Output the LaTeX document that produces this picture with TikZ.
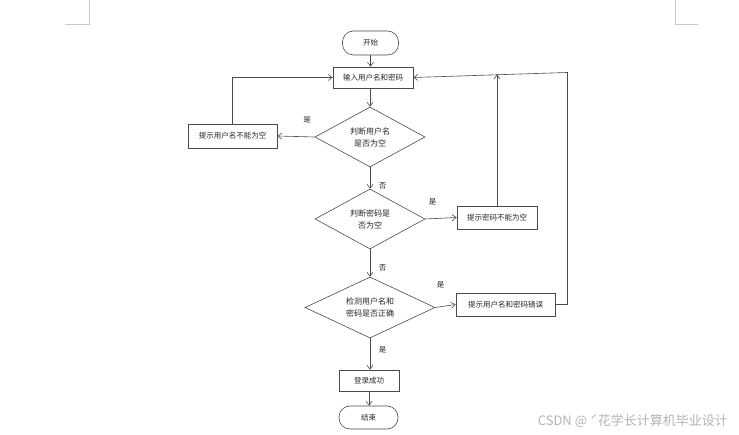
\documentclass[tikz,border=0pt]{standalone}
\usepackage{fontspec}
\setmainfont{Noto Sans CJK SC}
\usetikzlibrary{shapes.geometric,arrows.meta}
\definecolor{ln}{HTML}{4A4A4A}
\definecolor{wm}{HTML}{B4B4B4}
\definecolor{mk}{HTML}{C8C8C8}
\tikzset{
  x=1pt,y=-1pt,
  every node/.style={font=\fontsize{7.5}{10}\selectfont, text=black!85},
  procbox/.style={draw=ln, line width=0.6pt, rectangle, inner sep=0pt, align=center},
  pill/.style={draw=ln, line width=0.6pt, rectangle, rounded corners=11pt, inner sep=0pt, minimum width=56pt, minimum height=24pt},
  decide/.style={draw=ln, line width=0.6pt, diamond, inner sep=0pt, aspect=1.9, align=center, font=\fontsize{8}{12}\selectfont},
  flow/.style={draw=ln, line width=0.6pt, -{Straight Barb[length=4pt,width=6pt]}},
  plain/.style={draw=ln, line width=0.6pt},
  lbl/.style={font=\fontsize{7.5}{8}\selectfont, inner sep=0pt},
}
\begin{document}
\begin{tikzpicture}
\useasboundingbox (0,0) rectangle (739,435);
% page corner marks
\draw[mk, line width=0.6pt] (89,0) -- (89,24) -- (65,24);
\draw[mk, line width=0.6pt] (675,0) -- (675,24) -- (698,24);

\node[pill] (start) at (370.5,43) {开始};
\node[procbox, minimum width=80pt, minimum height=21pt] (input) at (373,77.5) {输入用户名和密码};
\node[decide, minimum width=110pt, minimum height=60pt] (d1) at (370,137) {判断用户名\\是否为空};
\node[procbox, minimum width=89pt, minimum height=24pt] (b1) at (232.5,136) {提示用户名不能为空};
\node[decide, minimum width=110pt, minimum height=60pt] (d2) at (370,219) {判断密码是\\否为空};
\node[procbox, minimum width=80pt, minimum height=23pt] (b2) at (497,217.5) {提示密码不能为空};
\node[decide, minimum width=130pt, minimum height=61pt] (d3) at (370,307.5) {检测用户名和\\密码是否正确};
\node[procbox, minimum width=99pt, minimum height=23pt] (b3) at (505.5,304.5) {提示用户名和密码错误};
\node[procbox, minimum width=60pt, minimum height=21pt] (ok) at (369,380.5) {登录成功};
\node[pill, minimum width=59pt, minimum height=23pt] (stop) at (368.5,417.5) {结束};

\coordinate (tr) at (567,72.5);
\coordinate (j) at (497,74.5);
\coordinate (br) at (567,304.5);

\draw[flow] (start.south) -- (start.south |- input.north);
\draw[flow] (d1.north |- input.south) -- (d1.north);
\draw[flow] (d1.west) -- (b1.east);
\draw[flow] (b1.north) |- (input.west);
\draw[flow] (d1.south) -- (d2.north);
\draw[flow] (d2.east) -- (b2.west);
\draw[flow] (b2.north) -- (j);
\draw[flow] (d2.south) -- (d3.north);
\draw[flow] (d3.east) -- (b3.west);
\draw[plain] (b3.east) -- (br) -- (tr);
\draw[flow] (tr) -- (input.east);
\draw[flow] (d3.south) -- (d3.south |- ok.north);
\draw[flow] (ok.south) -- (ok.south |- stop.north);

\node[lbl] (l1) at (307,120) {是};
\node[lbl] (l2) at (382.5,186) {否};
\node[lbl] (l3) at (432.5,202) {是};
\node[lbl] (l4) at (382.5,268) {否};
\node[lbl] (l5) at (440.5,285) {是};
\node[lbl] (l6) at (382.5,350) {是};

\node[anchor=east, inner sep=0pt, text=wm, font=\fontsize{13}{15}\selectfont] (wm) at (728,421) {CSDN @ ˊ花学长计算机毕业设计};
\end{tikzpicture}
\end{document}
